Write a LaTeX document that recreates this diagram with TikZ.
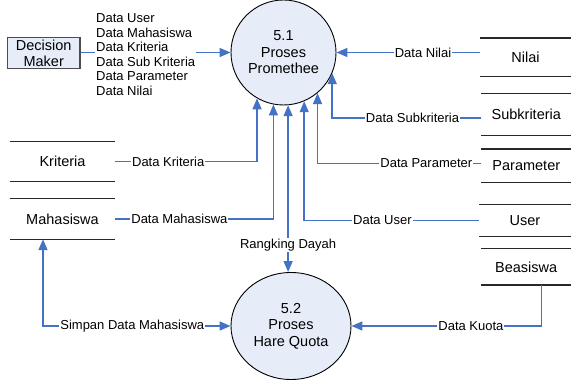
\documentclass[tikz,border=0pt]{standalone}
\usepackage{fontspec}
\setmainfont{Liberation Sans}
\usetikzlibrary{arrows.meta,shapes.geometric}

\definecolor{flowblue}{RGB}{68,114,196}
\definecolor{procfill}{RGB}{231,237,248}
\definecolor{storegray}{RGB}{40,40,40}

\begin{document}
\begin{tikzpicture}[x=1pt,y=-1pt,
  >={Triangle[length=11pt,width=9pt]},
  proc/.style={circle,draw=black,line width=0.9pt,fill=procfill,inner sep=0pt,
    align=center,font=\fontsize{14.5}{16.5}\selectfont},
  procell/.style={ellipse,draw=black,line width=0.9pt,fill=procfill,inner sep=0pt,
    align=center,font=\fontsize{14.5}{16.5}\selectfont},
  extent/.style={rectangle,draw=black!70,line width=1.1pt,fill=procfill,inner sep=0pt,
    align=center,font=\fontsize{14.5}{16}\selectfont},
  store/.style={rectangle,inner sep=0pt,font=\fontsize{14.5}{16.5}\selectfont},
  storeline/.style={draw=storegray,line width=1.2pt},
  flow/.style={draw=flowblue,line width=1.5pt},
  lbl/.style={fill=white,inner sep=1pt,font=\fontsize{13}{14.6}\selectfont},
  lblblock/.style={fill=white,inner sep=1pt,align=left,font=\fontsize{13}{14.6}\selectfont}
]
\useasboundingbox (0,0) rectangle (571,382);

% processes
\node[proc,minimum size=105pt] (c51) at (283.5,52.5) {5.1\\Proses\\Promethee};
\node[procell,minimum width=120pt,minimum height=107pt] (c52) at (291,326) {5.2\\Proses\\Hare Quota};

% external entity
\node[extent,minimum width=72.5pt,minimum height=31.3pt] (dm) at (43.75,53) {Decision\\Maker};

% data stores
\node[store,minimum width=91pt,minimum height=38.4pt] (nilai) at (525.5,57.5) {Nilai};
\node[store,minimum width=89.3pt,minimum height=41pt] (subk) at (526.3,114.5) {Subkriteria};
\node[store,minimum width=89.3pt,minimum height=33.4pt] (param) at (526.3,166) {Parameter};
\node[store,minimum width=92pt,minimum height=31.7pt] (user) at (525,220.5) {User};
\node[store,minimum width=89.6pt,minimum height=36pt] (beas) at (526.2,267) {Beasiswa};
\node[store,minimum width=105pt,minimum height=40pt] (kri) at (62.5,161.7) {Kriteria};
\node[store,minimum width=105pt,minimum height=40pt] (mah) at (62.5,219) {Mahasiswa};

\foreach \s in {nilai,subk,param,user,beas,kri,mah}{
  \draw[storeline] (\s.north west) -- (\s.north east);
}
\foreach \s in {nilai,subk,param,user,kri,mah}{
  \draw[storeline] (\s.south west) -- (\s.south east);
}
\draw[storeline,line width=2pt] (beas.south west) -- (beas.south east);

% data flows into 5.1
\draw[flow,->] (c51.west -| dm.east) -- node[lblblock,pos=0.434,yshift=-2pt]
  {Data User\\Data Mahasiswa\\Data Kriteria\\Data Sub Kriteria\\Data Parameter\\Data Nilai} (c51.west);
\draw[flow,->] (c51.east -| nilai.west) -- node[lbl,pos=0.396]{Data Nilai} (c51.east);
\draw[flow,->] ([yshift=-3.5pt]subk.west) -| node[lbl,pos=0.231]{Data Subkriteria} (c51.-23.3);
\draw[flow,->] ([yshift=2.7pt]param.west) -| node[lbl,pos=0.168]{Data Parameter} (c51.-50.4);
\draw[flow,->] (user.west) -| node[lbl,pos=0.276]{Data User} (c51.-67);
\draw[flow,->] (kri.east) -| node[lbl,pos=0.187]{Data Kriteria} (c51.-120.3);
\draw[flow,->] (mah.east) -| node[lbl,pos=0.203]{Data Mahasiswa} (c51.-101.9);

% between the processes
\draw[flow,<->] (c51.-85.1) -- node[lbl,pos=0.84]{Rangking Dayah} (c51.-85.1 |- c52.north);

% flows around 5.2
\draw[flow,<->] ([xshift=-19.5pt]mah.south) |- node[lbl,pos=0.738]{Simpan Data Mahasiswa} (c52.west);
\draw[flow,->] ([xshift=15.5pt]beas.south) |- node[lbl,pos=0.686]{Data Kuota} (c52.east);
\end{tikzpicture}
\end{document}
